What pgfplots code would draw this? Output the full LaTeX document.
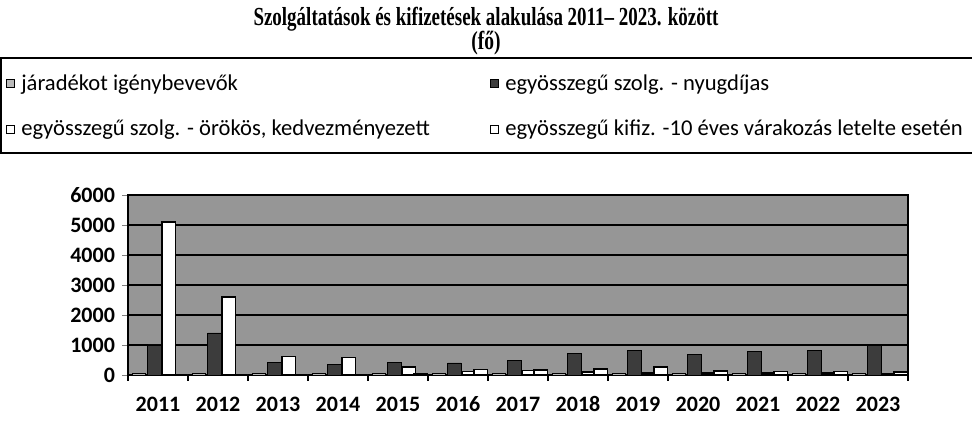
\documentclass[border=0pt]{standalone}
\usepackage{graphicx}
\usepackage{pgfplots}
\pgfplotsset{compat=1.18}
\usepackage{fontspec}
\setmainfont{Carlito}
\newfontfamily\serifb{Liberation Serif}
\definecolor{bggray}{RGB}{150,150,150}
\definecolor{darkbar}{RGB}{60,60,60}
\definecolor{patbar}{RGB}{185,185,185}
\begin{document}
\begin{tikzpicture}
\begin{axis}[
  at={(64pt,23pt)}, anchor=south west,
  scale only axis, width=390pt, height=90pt,
  xmin=-0.5, xmax=12.5, ymin=0, ymax=6000,
  ytick={0,1000,...,6000},
  xtick={0,...,12},
  xticklabels={2011,2012,2013,2014,2015,2016,2017,2018,2019,2020,2021,2022,2023},
  minor xtick={-0.5,0.5,...,12.5},
  major x tick style={draw=none},
  minor x tick style={black, line width=0.8pt},
  tick align=outside, ytick pos=left, xtick pos=bottom,
  major tick length=3pt, minor tick length=3pt,
  /pgf/number format/assume math mode=true,
  /pgf/number format/1000 sep={},
  yticklabel style={font=\bfseries\fontsize{11}{12}\selectfont, xshift=0pt},
  xticklabel style={font=\bfseries\fontsize{11}{12}\selectfont, yshift=-4pt, text height=1.6ex, text depth=0.2ex},
  axis background/.style={fill=bggray},
  ymajorgrids, major grid style={black, line width=1.1pt},
  axis line style={black, line width=0.8pt},
  ybar=0pt, bar width=0.22,
  legend columns=2,
  legend cell align=left,
  legend style={at={(axis description cs:-0.161,1.761)}, anchor=north west,
    draw=none, fill=none, font=\fontsize{11.3}{13}\selectfont,
    /tikz/every even column/.append style={column sep=28pt},
    row sep=9.5pt, inner xsep=1.5pt, inner ysep=6pt},
  legend image code/.code={\draw[#1, line width=0.5pt] (0pt,-2pt) rectangle (4pt,2pt); \path[draw=none, fill=none] (0pt,0pt) -- (5.5pt,0pt);},
]
\addplot[draw=black, line width=0.4pt, fill=patbar, bar shift=-0.32] coordinates {
(0,40) (1,50) (2,40) (3,40) (4,40) (5,40) (6,40) (7,40) (8,40) (9,40) (10,40) (11,40) (12,40)};
\addlegendentry{járadékot igénybevevők}
\addplot[draw=black, line width=0.4pt, fill=darkbar, bar shift=-0.06] coordinates {
(0,1000) (1,1400) (2,420) (3,340) (4,420) (5,400) (6,470) (7,720) (8,820) (9,680) (10,770) (11,830) (12,980)};
\addlegendentry{egyösszegű szolg. - nyugdíjas}
\addplot[draw=black, line width=0.8pt, fill=white, bar shift=0.18] coordinates {
(0,5100) (1,2600) (2,620) (3,580) (4,260) (5,120) (6,150) (7,100) (8,60) (9,60) (10,70) (11,60) (12,40)};
\addlegendentry{egyösszegű szolg. - örökös, kedvezményezett}
\addplot[draw=black, line width=0.8pt, fill=white, bar shift=0.38] coordinates {
(0,0) (1,0) (2,0) (3,0) (4,50) (5,180) (6,170) (7,190) (8,270) (9,130) (10,110) (11,120) (12,100)};
\addlegendentry{egyösszegű kifiz. -10 éves várakozás letelte esetén}
\end{axis}
\draw[black, line width=0.8pt] (0.4pt,181.5pt) rectangle (490pt,134pt);
\node[inner sep=0pt, font=\serifb\bfseries\fontsize{13}{15}\selectfont] at (243pt,201pt)
  {\scalebox{0.73}[1]{Szolgáltatások és kifizetések alakulása 2011– 2023. között}};
\node[inner sep=0pt, font=\serifb\bfseries\fontsize{13}{15}\selectfont] at (243pt,189pt)
  {\scalebox{0.75}[1]{(fő)}};
\pgfresetboundingbox
\path (0,0) rectangle (486pt,210.5pt);
\end{tikzpicture}
\end{document}
